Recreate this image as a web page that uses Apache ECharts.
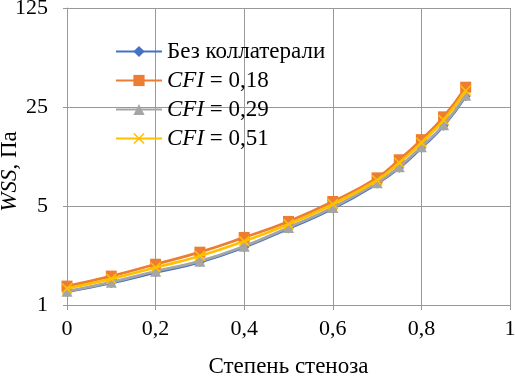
<!DOCTYPE html>
<html><head><meta charset="utf-8">
<script src="https://cdn.jsdelivr.net/npm/echarts@6/dist/echarts.min.js"></script>
<style>html,body{margin:0;padding:0;background:#fff}#c{width:515px;height:376px}</style>
</head><body><div id="c"></div>
<script>
const xValues = [0, 0.1, 0.2, 0.3, 0.4, 0.5, 0.6, 0.7, 0.75, 0.8, 0.85, 0.9];
const seriesNames = ['Без коллатерали', 'CFI = 0,18', 'CFI = 0,29', 'CFI = 0,51'];
const noCollateral = [1.24, 1.43, 1.70, 2.01, 2.56, 3.47, 4.80, 7.2, 9.3, 12.9, 18.4, 29.8];
const cfi018 = [1.36, 1.60, 1.94, 2.36, 3.0, 3.89, 5.38, 7.9, 10.6, 14.7, 21.3, 34.5];
const cfi029 = [1.25, 1.45, 1.73, 2.04, 2.60, 3.53, 4.88, 7.3, 9.47, 13.1, 18.7, 30.3];
const cfi051 = [1.31, 1.53, 1.84, 2.22, 2.82, 3.72, 5.15, 7.6, 10.1, 14.0, 20.2, 32.6];
const yTicks = [1, 5, 25, 125];
const xTicks = [0, 0.2, 0.4, 0.6, 0.8, 1];

const colors = ['#4472C4', '#ED7D31', '#A5A5A5', '#FFC000'];
const symbols = ['diamond', 'rect', 'triangle', 'path://M0,1L1,0L10,9L9,10Z M9,0L10,1L1,10L0,9Z'];
const sizes = [10, 11, 11, 11];
const dataSets = [noCollateral, cfi018, cfi029, cfi051];
const font = 'Liberation Serif';
const fs = 22;
const fsBig = 23;

const chart = echarts.init(document.getElementById('c'), null, {renderer: 'canvas'});
chart.setOption({
  animation: false,
  color: colors,
  grid: {left: 67, right: 5, top: 8, bottom: 71, containLabel: false, outerBoundsMode: 'none'},
  legend: {
    left: 110, top: 35, orient: 'vertical', itemGap: 6,
    itemWidth: 46, itemHeight: 14,
    data: seriesNames,
    formatter: function (n) {
      if (n.indexOf('CFI') === 0) return '{i|CFI}{n|' + n.slice(3) + '}';
      return '{n|' + n + '}';
    },
    textStyle: {
      fontFamily: font, fontSize: fsBig, color: '#000',
      rich: {
        i: {fontFamily: font, fontSize: fsBig, fontStyle: 'italic', color: '#000'},
        n: {fontFamily: font, fontSize: fsBig, color: '#000'}
      }
    }
  },
  xAxis: {
    type: 'value', min: 0, max: 1, interval: 0.2,
    name: 'Степень стеноза', nameLocation: 'middle', nameGap: 50, nameMoveOverlap: false,
    nameTextStyle: {fontFamily: font, fontSize: fsBig, color: '#000'},
    axisLine: {show: true, lineStyle: {color: '#999', width: 1}},
    axisTick: {show: true, length: 5, lineStyle: {color: '#999'}},
    splitLine: {show: true, lineStyle: {color: '#999', width: 1}},
    axisLabel: {fontFamily: font, fontSize: fs, color: '#000', margin: 13,
      formatter: function (v) { return String(v).replace('.', ','); }}
  },
  yAxis: {
    type: 'log', logBase: 5, min: yTicks[0], max: yTicks[yTicks.length - 1],
    name: '{i|WSS}{n|, Па}', nameLocation: 'middle', nameGap: 46, nameRotate: 90, nameMoveOverlap: false,
    nameTextStyle: {fontFamily: font, fontSize: fsBig, color: '#000', padding: [0, 30, 0, 0],
      rich: {i: {fontFamily: font, fontSize: fsBig, fontStyle: 'italic', color: '#000'},
             n: {fontFamily: font, fontSize: fsBig, color: '#000'}}},
    axisLine: {show: true, lineStyle: {color: '#999', width: 1}},
    axisTick: {show: true, length: 4, lineStyle: {color: '#999'}},
    splitLine: {show: true, lineStyle: {color: '#999', width: 1}},
    axisLabel: {fontFamily: font, fontSize: fs, color: '#000', margin: 19}
  },
  series: seriesNames.map(function (name, i) {
    return {
      name: name, type: 'line', smooth: true,
      data: xValues.map(function (x, j) { return [x, dataSets[i][j]]; }),
      symbol: symbols[i], symbolSize: sizes[i], showAllSymbol: true,
      lineStyle: {width: 2.75, color: colors[i]},
      itemStyle: {color: colors[i]},
      z: 2 + i
    };
  })
});
</script></body></html>
